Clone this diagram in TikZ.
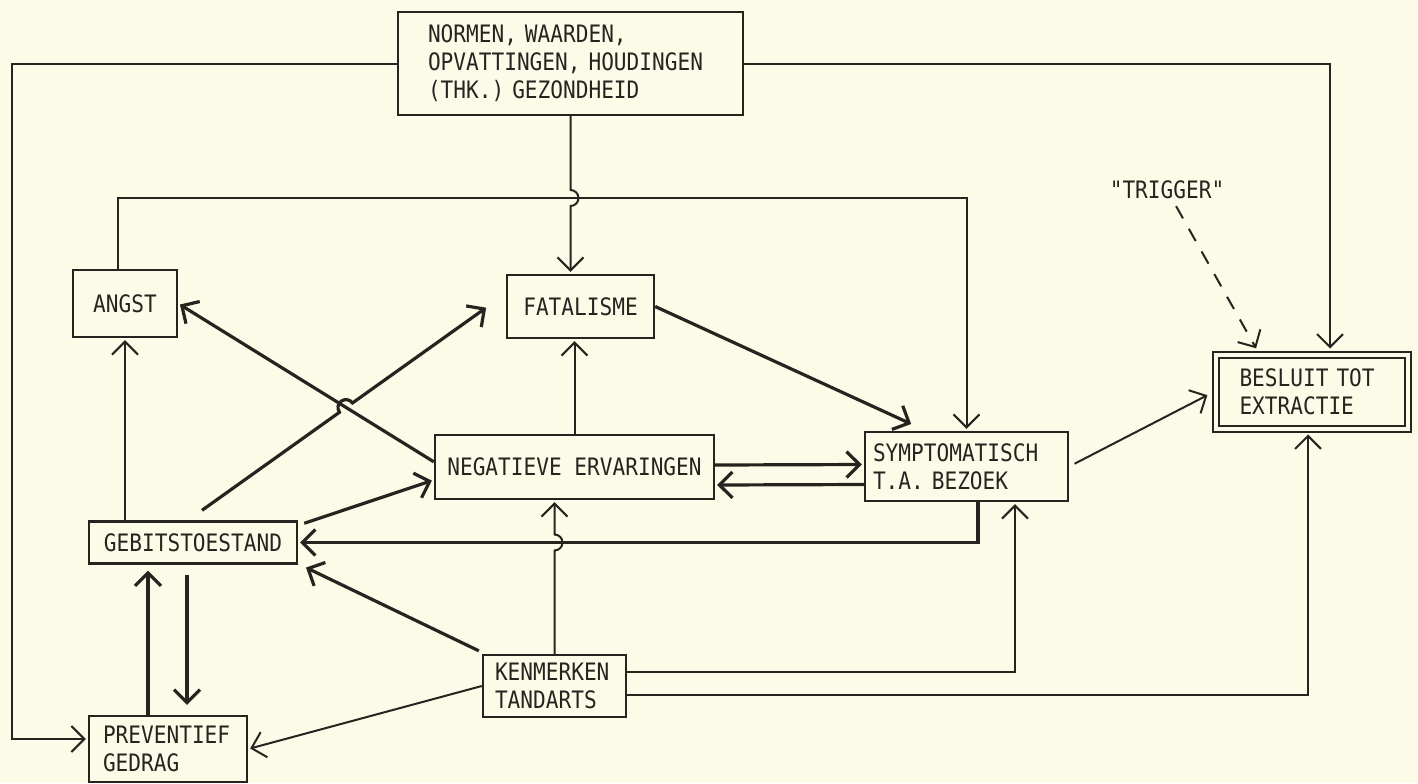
\documentclass[tikz,border=0pt]{standalone}
\usepackage{fontspec}
\setmainfont{DejaVu Sans Mono}[FakeStretch=0.88, Ligatures=TeXOff]
\usetikzlibrary{positioning}
\usetikzlibrary{calc}
\usetikzlibrary{arrows.meta}
\definecolor{paper}{RGB}{252,251,231}
\definecolor{ink}{RGB}{38,36,30}
\tikzset{
    % Open barbs, close to the hand drawn heads
    >={Straight Barb[length=6.5pt, width=13pt]},
%
    % The typewriter lettering
    typed/.style={text=ink, font=\fontsize{12}{14}\selectfont},
%
    % A plain box round one factor
    factor/.style={
        typed, draw=ink, rectangle, line width=1.2pt, inner sep=0},
%
    % The same box, with its lines set flush left
    flush factor/.style={factor, align=left},
%
    % An ordinary influence
    link/.style={draw=ink, line width=1pt, ->, shorten >=1pt},
%
    % A heavier pen for the main influences
    strong link/.style={link, line width=1.6pt}}

\begin{document}
\begin{tikzpicture}[x=0.5pt, y=-0.5pt]

% Paper, and the size of the page
\fill[paper] (0,0) rectangle (1418,783);
\useasboundingbox (0,0) rectangle (1418,783);

% The factors
\path
    node[flush factor, minimum width=172.5pt, minimum height=51.5pt,
        inner xsep=15pt, text width=142.5pt]
        (normen) at (570.5,63.5)
        {NORMEN, WAARDEN,\\OPVATTINGEN, HOUDINGEN\\(THK.) GEZONDHEID}
    node[factor, minimum width=52pt, minimum height=33.5pt]
        (angst) at (125,303.5) {ANGST}
    node[factor, minimum width=73.5pt, minimum height=31.5pt]
        (fatalisme) at (580.5,306.5) {FATALISME}
    node[factor, minimum width=139.5pt, minimum height=32pt]
        (negatieve) at (574.5,467) {NEGATIEVE ERVARINGEN}
    node[flush factor, minimum width=101.5pt, minimum height=34.5pt,
        inner xsep=4pt, text width=93.5pt]
        (symptomatisch) at (966.5,466.5) {SYMPTOMATISCH\\T.A. BEZOEK}
    node[flush factor, double=paper, double distance=2pt, line width=1pt,
        minimum width=96pt, minimum height=37pt,
        inner xsep=12pt, text width=72pt]
        (besluit) at (1311.5,391.5) {BESLUIT TOT\\EXTRACTIE}
    node[factor, minimum width=104pt, minimum height=21pt]
        (gebit) at (193,542.5) {GEBITSTOESTAND}
    node[flush factor, minimum width=71.5pt, minimum height=31pt,
        inner xsep=6pt, text width=59.5pt]
        (kenmerken) at (554.5,686) {KENMERKEN\\TANDARTS}
    node[flush factor, minimum width=79pt, minimum height=33pt,
        inner xsep=7pt, text width=65pt]
        (preventief) at (168,749) {PREVENTIEF\\GEDRAG}
    node[typed] (trigger) at (1167,190) {"TRIGGER"};

\coordinate (left rail) at (12,63.5);
\coordinate (fear rail) at (118,198);

% Norms round the outside, and down to fatalism
\draw[link] (normen.west) -- (left rail) |- ([yshift=5pt]preventief.west);
\draw[link, shorten >=2.5pt] (normen.east) -| ([xshift=9.25pt]besluit.north);
\draw[link] (normen.south)
    -- ($(normen.south |- fear rail)+(0,-8)$)
    arc[start angle=-90, end angle=90, radius=8]
    -- (normen.south |- fatalisme.north);

% Fear over the top to the visit
\draw[link] (angst.north -| fear rail) -- (fear rail) -| (symptomatisch.north);
\draw[strong link] (fatalisme.east)
    -- ([xshift=-26.75pt, yshift=3pt]symptomatisch.north);

% Bad experiences
\draw[link] (negatieve.north) -- (negatieve.north |- fatalisme.south);
\draw[strong link] ([yshift=-14pt]negatieve.north west) -- (angst.east);
\draw[strong link] ([yshift=1pt]negatieve.east)
    -- ([yshift=1pt]symptomatisch.west);
\draw[strong link] ([yshift=-9pt]symptomatisch.west)
    -- ([yshift=-9pt]negatieve.east);

% State of the teeth
\coordinate (gf start) at ([xshift=4.5pt, yshift=5pt]gebit.north);
\coordinate (gf end) at ([xshift=-9pt]fatalisme.west);
\draw[strong link] (gf start) -- ($(gf start)!.481!(gf end)$)
    arc[start angle=144.4, end angle=324.4, radius=8] -- (gf end);
\draw[strong link] ([xshift=3pt, yshift=-1.5pt]gebit.north east)
    -- ([yshift=-6.5pt]negatieve.west);
\draw[link] (gebit.north -| angst.south) -- (angst.south);
\draw[strong link] ([xshift=5.75pt]symptomatisch.south) |- (gebit.east);

% Preventive behaviour and the teeth
\draw[strong link] ($(preventief.north)+(-20,0)$)
    -- ($(preventief.north |- gebit.south)+(-20,4)$);
\draw[strong link] ($(gebit.south)+(-6,10)$)
    -- ($(preventief.north)+(19,-8)$);

% The dentist
\draw[link] (kenmerken.north)
    -- ($(kenmerken.north |- gebit.east)+(0,8)$)
    arc[start angle=90, end angle=-90, radius=8]
    -- (kenmerken.north |- negatieve.south);
\draw[strong link] ([xshift=-1.5pt, yshift=1.5pt]kenmerken.north west)
    -- ([xshift=3pt, yshift=-1pt]gebit.south east);
\draw[link] (kenmerken.west) -- (preventief.east);
\draw[link] ([yshift=7pt]kenmerken.east) -| ([xshift=24.25pt]symptomatisch.south);
\draw[link, shorten >=2.5pt] ([yshift=-4.5pt]kenmerken.east)
    -| ([xshift=-1.75pt]besluit.south);

% On to the decision
\draw[link, shorten <=3pt, shorten >=4pt] (symptomatisch.east) -- (besluit.west);
\draw[link, dash pattern=on 7pt off 6pt, shorten >=3pt]
    (trigger) -- ([xshift=-26.25pt]besluit.north);

\end{tikzpicture}
\end{document}
